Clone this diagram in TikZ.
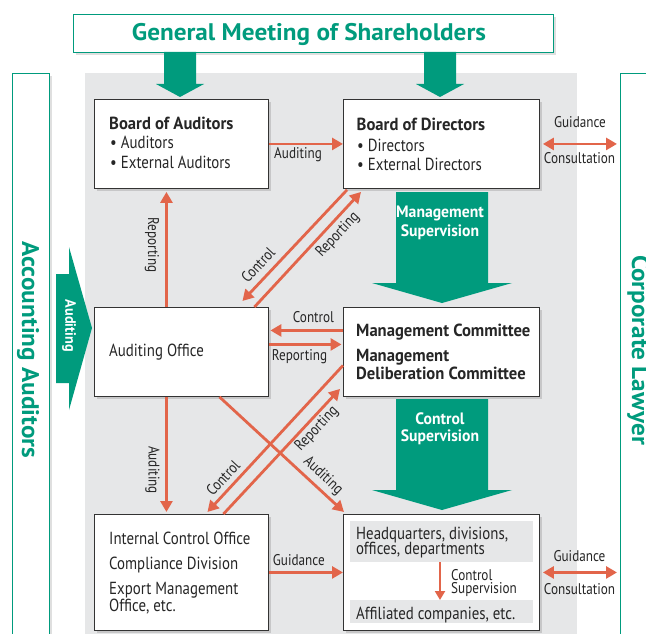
\documentclass[tikz,border=0pt]{standalone}
\usepackage{fontspec}
\setmainfont{PT Sans}[FakeStretch=0.85, BoldFeatures={FakeStretch=0.95}]
\newfontfamily\widef{PT Sans}[FakeStretch=1.05]
\usetikzlibrary{arrows.meta,shadows,calc}
\definecolor{tgreen}{HTML}{009B7D}
\definecolor{orng}{HTML}{E2654A}
\definecolor{bggrey}{HTML}{E6E7E8}
\newcommand\bodyf{\fontsize{17.5}{20}\selectfont}
\newcommand\labf{\fontsize{15.5}{18}\selectfont}
\newcommand\titf{\widef\fontsize{24}{27}\selectfont\bfseries}
\newcommand\sidef{\widef\fontsize{24}{27}\selectfont\bfseries}
\newcommand\arrf{\fontsize{16.5}{19}\selectfont\bfseries}
\begin{document}
\begin{tikzpicture}[x=1pt,y=-1pt,
  box/.style={draw=black!80, line width=0.9pt, fill=white, anchor=north west, inner sep=0pt,
    drop shadow={shadow xshift=2.5pt, shadow yshift=-2.5pt, opacity=0.3}},
  gbox/.style={draw=tgreen, line width=1pt, fill=white, anchor=north west, inner sep=0pt,
    drop shadow={shadow xshift=2.5pt, shadow yshift=-2.5pt, opacity=0.25}},
  txt/.style={anchor=base west, inner sep=0pt, font=\bodyf, text=black!85},
  btxt/.style={txt, font=\bodyf\bfseries},
  lab/.style={inner sep=0pt, font=\labf, text=black!85},
  arr/.style={draw=orng, line width=2.8pt, -{Triangle[length=11pt,width=12pt]}},
  darr/.style={draw=orng, line width=2.8pt, {Triangle[length=11pt,width=12pt]}-{Triangle[length=11pt,width=12pt]}},
  garrow/.style={fill=tgreen},
  wtxt/.style={anchor=base, inner sep=0pt, font=\arrf, text=white}
]
\clip (0,0) rectangle (646,634);
\fill[white] (0,0) rectangle (646,634);
\fill[bggrey] (85,73) rectangle (577,640);

% side boxes
\node[gbox, minimum width=37pt, minimum height=580pt] (acc) at (12,73) {};
\node[gbox, minimum width=40pt, minimum height=580pt] (law) at (620,73) {};
\node[anchor=base, rotate=-90, inner sep=0pt, font=\sidef, text=tgreen] (acct) at (22,350) {Accounting Auditors};
\node[anchor=base, rotate=-90, inner sep=0pt, font=\sidef, text=tgreen] (lawt) at (632,350) {Corporate Lawyer};

% title
\node[gbox, minimum width=480pt, minimum height=38pt] (gms) at (73,14) {};
\node[anchor=base, inner sep=0pt, font=\titf, text=tgreen] (gmst) at (309,40.7) {General Meeting of Shareholders};

% green arrows from title
\fill[garrow] (164,52) -- (196,52) -- (196,84) -- (204,84) -- (180,97) -- (156,84) -- (164,84) -- cycle;
\fill[garrow] (424,52) -- (456,52) -- (456,84) -- (464,84) -- (440,97) -- (416,84) -- (424,84) -- cycle;

% boxes
\node[box, minimum width=174pt, minimum height=89pt] (boa) at (94,99) {};
\node[box, minimum width=196pt, minimum height=89pt] (bod) at (343,99) {};
\node[box, minimum width=174pt, minimum height=89pt] (ao) at (94,307) {};
\node[box, minimum width=196pt, minimum height=89pt] (mc) at (343,307) {};
\node[box, minimum width=174pt, minimum height=116pt] (ico) at (94,514) {};
\node[box, minimum width=196pt, minimum height=116pt] (hq) at (343,514) {};
\node[fill=bggrey, anchor=north west, inner sep=0pt, minimum width=183pt, minimum height=41pt] (hq1) at (350,521) {};
\node[fill=bggrey, anchor=north west, inner sep=0pt, minimum width=183pt, minimum height=23pt] (hq2) at (350,600) {};

% big green arrows
\fill[garrow] (396,192) -- (488,192) -- (488,283) -- (512,283) -- (442,303) -- (372,283) -- (396,283) -- cycle;
\fill[garrow] (396,399) -- (488,399) -- (488,490) -- (512,490) -- (442,510) -- (372,490) -- (396,490) -- cycle;
\node[wtxt] at (440,217.7) {Management};
\node[wtxt] at (440,236.7) {Supervision};
\node[wtxt] at (440,424) {Control};
\node[wtxt] at (440,441.7) {Supervision};

% auditing arrow from accounting auditors
\fill[garrow] (56,274) -- (69,274) -- (69,247) -- (92,328) -- (69,410) -- (69,383) -- (56,383) -- cycle;
\node[rotate=-90, inner sep=0pt, font=\fontsize{15}{17}\selectfont\bfseries, text=white] at (69,326) {Auditing};

% texts in boxes
\node[btxt] at (109,129) {Board of Auditors};
\node[txt] at (110,149) {• Auditors};
\node[txt] at (110,168) {• External Auditors};
\node[btxt] at (356.5,130.5) {Board of Directors};
\node[txt] at (357,151) {• Directors};
\node[txt] at (357,171) {• External Directors};
\node[txt] at (109,356.7) {Auditing Office};
\node[btxt] at (356,336) {Management Committee};
\node[btxt] at (356,361) {Management};
\node[btxt] at (356,379) {Deliberation Committee};
\node[txt] at (109,544) {Internal Control Office};
\node[txt] at (109,569) {Compliance Division};
\node[txt] at (109,594) {Export Management};
\node[txt] at (109,611.7) {Office, etc.};
\node[txt] at (356,539) {Headquarters, divisions,};
\node[txt] at (356,554) {offices, departments};
\node[txt] at (356,619) {Affiliated companies, etc.};

% connectors
\draw[arr] (boa.east) -- (bod.west);
\node[lab, anchor=base west] at (274,158) {Auditing};
\draw[darr, shorten <=3pt, shorten >=3pt] (bod.east) -- (law.west |- bod.east);
\node[lab, anchor=base] at (580,128) {Guidance};
\node[lab, anchor=base] at (579.5,163) {Consultation};

\draw[arr, shorten >=3pt] ($(ao.north)+(-15,0)$) -- ($(boa.south)+(-15,0)$);
\node[lab, rotate=-90] at (152,245) {Reporting};

\draw[arr] ($(bod.south west)+(4,1)$) -- ($(ao.north)+(61,-6)$);
\node[lab, rotate=47] at (258,265) {Control};
\draw[arr] ($(ao.north)+(73,0)$) -- ($(bod.south west)+(18,3)$);
\node[lab, rotate=47] at (338,235) {Reporting};

\draw[arr, shorten >=1.5pt] ([yshift=21.5pt]mc.west) -- ([yshift=21.5pt]ao.east);
\node[lab, anchor=base west] at (292.7,322.7) {Control};
\draw[arr, shorten >=1.5pt] ([yshift=7.5pt]ao.east) -- ([yshift=7.5pt]mc.west);
\node[lab, anchor=base west] at (271.7,360) {Reporting};

\draw[arr, shorten >=2pt] ($(ao.south)+(-15,0)$) -- ($(ico.north)+(-15,0)$);
\node[lab, rotate=-90] at (152.5,470) {Auditing};

\draw[arr] ($(mc.west)+(0,13.5)$) -- ($(ico.north)+(26,-2)$);
\node[lab, rotate=47] at (223,478) {Control};
\draw[arr] ($(ico.north)+(42,0)$) -- ($(mc.south west)+(-3,-8)$);
\node[lab, rotate=47] at (317,429) {Reporting};
\draw[arr] ($(ao.south)+(38,0)$) -- ($(hq.north west)+(1,-2)$);
\node[lab, rotate=-43] at (323,476) {Auditing};

\draw[arr] (ico.east) -- (hq.west);
\node[lab, anchor=base west] at (272.7,565.7) {Guidance};

\draw[darr, shorten <=3pt, shorten >=3pt] (hq.east) -- (law.west |- hq.east);
\node[lab, anchor=base] at (579.5,561) {Guidance};
\node[lab, anchor=base] at (579.5,594) {Consultation};

\draw[draw=orng, line width=2pt, -{Triangle[length=9pt,width=10pt]}] (hq1.south -| 440,0) -- (hq2.north -| 440,0);
\node[lab, anchor=base west] at (451,580) {Control};
\node[lab, anchor=base west] at (451,593) {Supervision};
\end{tikzpicture}
\end{document}
